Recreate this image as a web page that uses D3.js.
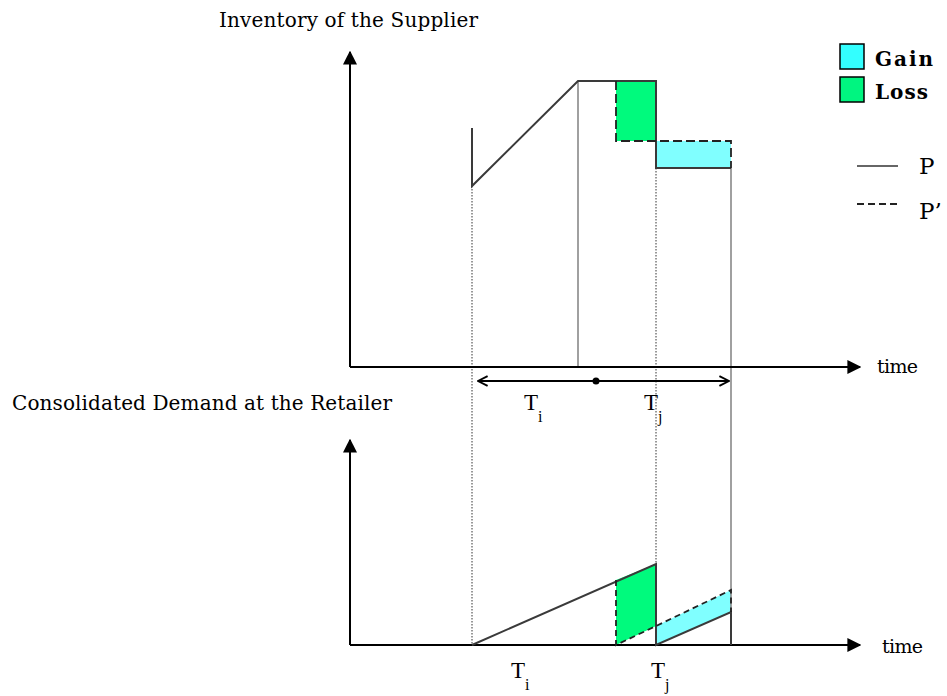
<!DOCTYPE html>
<html>
<head>
<meta charset="utf-8">
<script src="https://cdn.jsdelivr.net/npm/d3@7"></script>
<style>
  body { margin: 0; background: #fff; }
  text { font-family: "DejaVu Serif", serif; fill: #000; }
  text.sym { font-family: "Liberation Serif", "Times New Roman", serif; }
</style>
</head>
<body>
<div id="chart"></div>
<script>
// Data (time units on x, inventory / demand units on y)
const keyTimes = { ti: 12.2, prodEnd: 22.8, switchP: 26.6, tj: 30.6, end: 38.1 }
const periodLabels = ['T', 'T']
const periodSubs = ['i', 'j']

// supplier inventory, plan P (solid) and plan P' (dashed)
const supplierP = [[12.2, 23.9], [12.2, 18.1], [22.8, 28.6], [30.6, 28.6], [30.6, 19.9], [38.1, 19.9]]
const supplierPPrime = [[26.6, 28.6], [26.6, 22.6], [38.1, 22.6], [38.1, 19.9]]
const supplierLoss = [[26.6, 28.6], [30.6, 28.6], [30.6, 22.6], [26.6, 22.6]]
const supplierGain = [[30.6, 22.6], [38.1, 22.6], [38.1, 19.9], [30.6, 19.9]]

// retailer consolidated demand
const retailerP = [[12.2, 0], [30.6, 8.1], [30.6, 0], [38.1, 3.3], [38.1, 0]]
const retailerPPrime = [[26.6, 6.5], [26.6, 0], [30.6, 1.9], [38.1, 5.5], [38.1, 3.3]]
const retailerLoss = [[26.6, 6.5], [30.6, 8.1], [30.6, 1.9], [26.6, 0]]
const retailerGain = [[30.6, 1.9], [38.1, 5.5], [38.1, 3.3], [30.6, 0]]

const legendAreas = [{ name: 'Gain', color: '#33ffff', len: 58 }, { name: 'Loss', color: '#00f580', len: 53 }]
const legendLines = [{ name: 'P', dash: null }, { name: 'P\u2019', dash: '7,4' }]

const gainColor = '#80ffff'
const lossColor = '#00fa7d'

// Dimensions
const width = 947
const height = 696

const svg = d3.select('#chart')
  .append('svg')
  .attr('width', width)
  .attr('height', height)

const defs = svg.append('defs')
defs.append('marker')
  .attr('id', 'axisHead')
  .attr('viewBox', '0 0 10 10')
  .attr('refX', 9).attr('refY', 5)
  .attr('markerWidth', 14).attr('markerHeight', 14)
  .attr('markerUnits', 'userSpaceOnUse')
  .attr('orient', 'auto')
  .append('path')
  .attr('d', 'M0,0L10,5L0,10Z')
  .attr('fill', '#000')

defs.append('marker')
  .attr('id', 'chevron')
  .attr('viewBox', '0 0 10 10')
  .attr('refX', 9).attr('refY', 5)
  .attr('markerWidth', 12).attr('markerHeight', 12)
  .attr('markerUnits', 'userSpaceOnUse')
  .attr('orient', 'auto-start-reverse')
  .append('path')
  .attr('d', 'M1,1L9,5L1,9')
  .attr('fill', 'none')
  .attr('stroke', '#000')
  .attr('stroke-width', 1.6)

// Scales
const xScale = d3.scaleLinear().domain([0, 51]).range([350, 860])
const yTop = d3.scaleLinear().domain([0, 31.5]).range([367, 52])
const yBot = d3.scaleLinear().domain([0, 20.5]).range([645, 440])

const lineTop = d3.line().x(d => xScale(d[0])).y(d => yTop(d[1]))
const lineBot = d3.line().x(d => xScale(d[0])).y(d => yBot(d[1]))
const areaTop = d => lineTop(d) + 'Z'
const areaBot = d => lineBot(d) + 'Z'

// Filled regions
svg.append('path').attr('d', areaTop(supplierLoss)).attr('fill', lossColor)
svg.append('path').attr('d', areaTop(supplierGain)).attr('fill', gainColor)
svg.append('path').attr('d', areaBot(retailerLoss)).attr('fill', lossColor)
svg.append('path').attr('d', areaBot(retailerGain)).attr('fill', gainColor)

// Guide lines (dotted)
const guides = svg.append('g')
  .attr('stroke', '#333')
  .attr('stroke-width', 1)
  .attr('stroke-dasharray', '1.5,1.5')
guides.append('line')
  .attr('x1', xScale(keyTimes.ti)).attr('x2', xScale(keyTimes.ti))
  .attr('y1', yTop(18.1)).attr('y2', yBot(0))
guides.append('line')
  .attr('x1', xScale(keyTimes.tj)).attr('x2', xScale(keyTimes.tj))
  .attr('y1', yTop(19.9)).attr('y2', yBot(8.1))

// thin grey verticals
const thin = svg.append('g').attr('stroke', '#808080').attr('stroke-width', 1.5)
thin.append('line')
  .attr('x1', xScale(keyTimes.prodEnd)).attr('x2', xScale(keyTimes.prodEnd))
  .attr('y1', yTop(28.6)).attr('y2', yTop(0))
thin.append('line')
  .attr('x1', xScale(keyTimes.end)).attr('x2', xScale(keyTimes.end))
  .attr('y1', yTop(19.9)).attr('y2', yBot(0))

// Axes
function drawAxes(yScale, topVal) {
  const g = svg.append('g').attr('stroke', '#000').attr('stroke-width', 2)
  g.append('line')
    .attr('x1', xScale(0)).attr('x2', xScale(0))
    .attr('y1', yScale(0)).attr('y2', yScale(topVal))
    .attr('marker-end', 'url(#axisHead)')
  g.append('line')
    .attr('x1', xScale(0)).attr('x2', xScale(51))
    .attr('y1', yScale(0)).attr('y2', yScale(0))
    .attr('marker-end', 'url(#axisHead)')
}
drawAxes(yTop, 31.5)
drawAxes(yBot, 20.5)

// P lines (solid)
svg.append('path').attr('d', lineTop(supplierP))
  .attr('fill', 'none').attr('stroke', '#3a3a3a').attr('stroke-width', 2)
svg.append('path').attr('d', lineBot(retailerP))
  .attr('fill', 'none').attr('stroke', '#3a3a3a').attr('stroke-width', 2)

// P' lines (dashed)
svg.append('path').attr('d', lineTop(supplierPPrime))
  .attr('fill', 'none').attr('stroke', '#222').attr('stroke-width', 1.8)
  .attr('stroke-dasharray', '9,4')
svg.append('path').attr('d', lineBot(retailerPPrime))
  .attr('fill', 'none').attr('stroke', '#222').attr('stroke-width', 1.8)
  .attr('stroke-dasharray', '6,4')

// period arrow
const arrowY = 381
svg.append('line')
  .attr('x1', xScale(keyTimes.prodEnd) + 18).attr('x2', xScale(keyTimes.ti) + 6)
  .attr('y1', arrowY).attr('y2', arrowY)
  .attr('stroke', '#000').attr('stroke-width', 2)
  .attr('marker-end', 'url(#chevron)')
svg.append('line')
  .attr('x1', xScale(keyTimes.prodEnd) + 18).attr('x2', xScale(keyTimes.end) - 2)
  .attr('y1', arrowY).attr('y2', arrowY)
  .attr('stroke', '#000').attr('stroke-width', 2)
  .attr('marker-end', 'url(#chevron)')
svg.append('circle')
  .attr('cx', xScale(keyTimes.prodEnd) + 18).attr('cy', arrowY).attr('r', 3.5)
  .attr('fill', '#000')

// Period labels
function periodLabel(x, y, i) {
  const t = svg.append('text').attr('class', 'sym')
    .attr('x', x).attr('y', y).attr('font-size', 23)
  t.append('tspan').text(periodLabels[i])
  t.append('tspan').attr('font-size', 16).attr('dy', 12).text(periodSubs[i])
}
periodLabel(524, 410, 0)
periodLabel(644, 410, 1)
periodLabel(511, 678, 0)
periodLabel(651, 678, 1)

// Titles
svg.append('text').attr('x', 219).attr('y', 27).attr('font-size', 20)
  .attr('textLength', 259).attr('lengthAdjust', 'spacing')
  .text('Inventory of the Supplier')
svg.append('text').attr('x', 12).attr('y', 410).attr('font-size', 20)
  .attr('textLength', 380).attr('lengthAdjust', 'spacing')
  .text('Consolidated Demand at the Retailer')
svg.append('text').attr('x', 877).attr('y', 373).attr('font-size', 19)
  .attr('textLength', 41).attr('lengthAdjust', 'spacing').text('time')
svg.append('text').attr('x', 882).attr('y', 653).attr('font-size', 19)
  .attr('textLength', 41).attr('lengthAdjust', 'spacing').text('time')

// Legend
const legend = svg.append('g')
legend.selectAll('rect')
  .data(legendAreas)
  .join('rect')
  .attr('x', 840).attr('y', (d, i) => 44 + i * 33)
  .attr('width', 24).attr('height', 25)
  .attr('fill', d => d.color)
  .attr('stroke', '#000').attr('stroke-width', 1.5)
legend.selectAll('text.area')
  .data(legendAreas)
  .join('text')
  .attr('class', 'area')
  .attr('x', 875).attr('y', (d, i) => 66 + i * 33)
  .attr('font-size', 20).attr('font-weight', 'bold')
  .attr('textLength', d => d.len).attr('lengthAdjust', 'spacing')
  .text(d => d.name)
legend.selectAll('line')
  .data(legendLines)
  .join('line')
  .attr('x1', 857).attr('x2', 898)
  .attr('y1', (d, i) => 166 + i * 38).attr('y2', (d, i) => 166 + i * 38)
  .attr('stroke', (d, i) => i ? '#222' : '#666').attr('stroke-width', 2)
  .attr('stroke-dasharray', d => d.dash)
legend.selectAll('text.ln')
  .data(legendLines)
  .join('text')
  .attr('class', 'ln')
  .attr('x', 919).attr('y', (d, i) => 174 + i * 45)
  .attr('font-size', 23)
  .text(d => d.name)
</script>
</body>
</html>
